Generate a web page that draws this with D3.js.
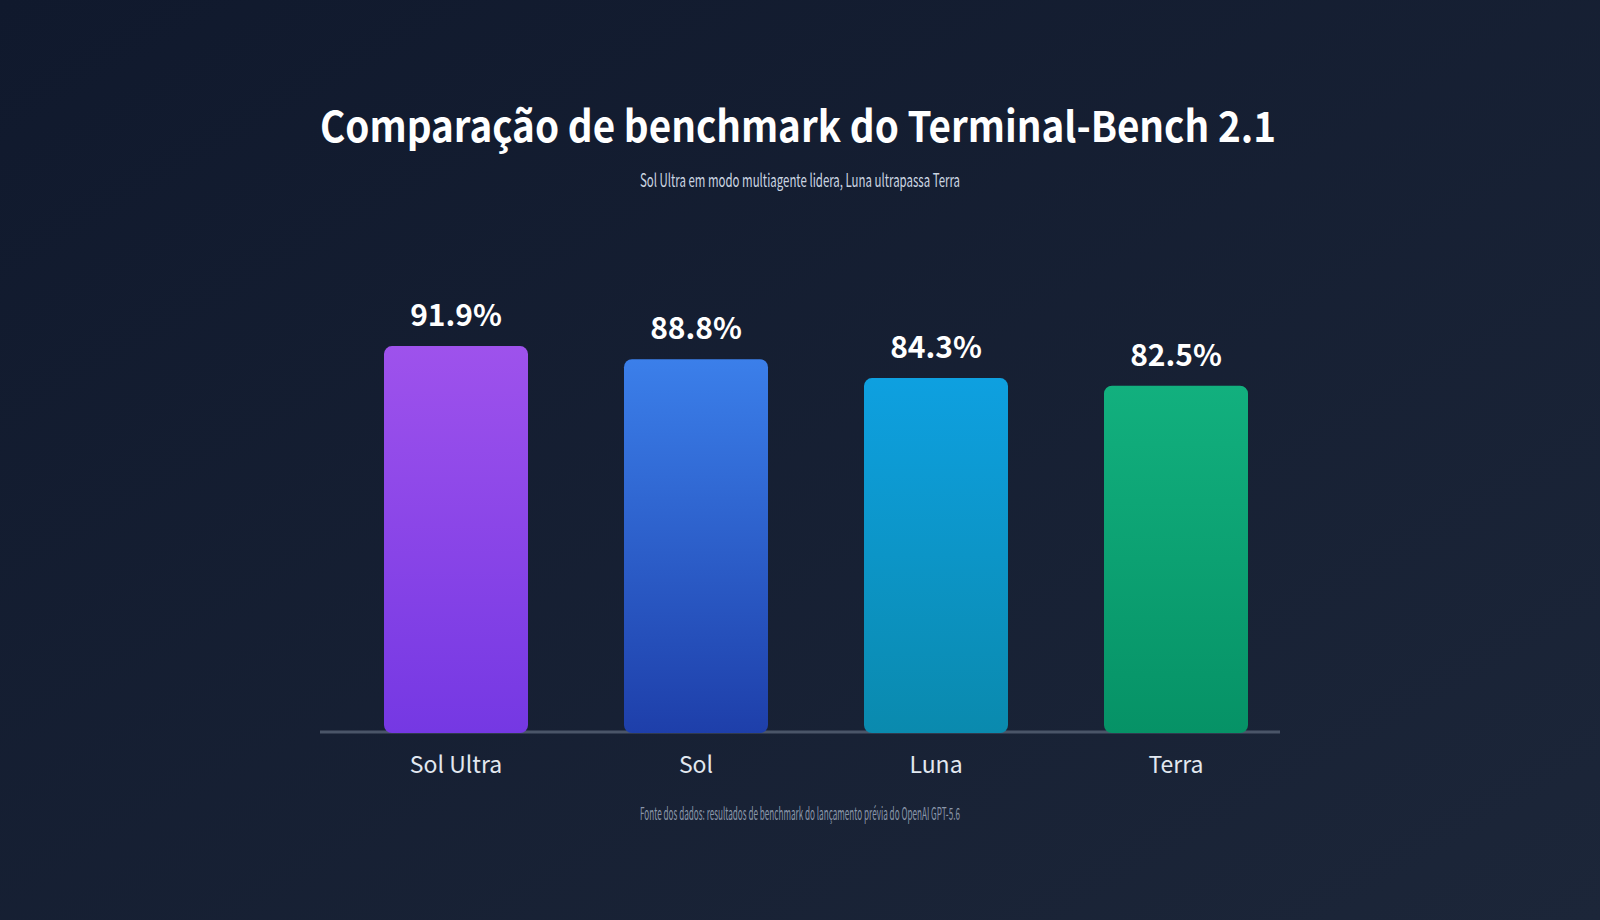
<!DOCTYPE html>
<html>
<head>
<meta charset="utf-8">
<script src="https://cdn.jsdelivr.net/npm/d3@7"></script>
<style>
  html, body { margin: 0; padding: 0; background: #111a2e; }
  svg { display: block; }
</style>
</head>
<body>
<svg id="chart"></svg>
<script>
const models = ["Sol Ultra", "Sol", "Luna", "Terra"];
const scores = [91.9, 88.8, 84.3, 82.5];
const barTop = ["#9e52ec", "#3b7fea", "#0ea0e0", "#12b07e"];
const barBottom = ["#7538e3", "#1e3faa", "#0a8aae", "#069266"];

const title = "Comparação de benchmark do Terminal-Bench 2.1";
const subtitle = "Sol Ultra em modo multiagente lidera, Luna ultrapassa Terra";
const source = "Fonte dos dados: resultados de benchmark do lançamento prévia do OpenAI GPT-5.6";

const width = 1600, height = 920;
const font = "'Noto Sans CJK JP', 'Noto Sans', sans-serif";

const svg = d3.select("#chart")
    .attr("width", width)
    .attr("height", height)
    .attr("viewBox", [0, 0, width, height]);

const defs = svg.append("defs");

const bg = defs.append("linearGradient")
    .attr("id", "bg")
    .attr("x1", "0%").attr("y1", "0%")
    .attr("x2", "100%").attr("y2", "100%");
bg.append("stop").attr("offset", "0%").attr("stop-color", "#10192d");
bg.append("stop").attr("offset", "100%").attr("stop-color", "#1c2639");

models.forEach((m, i) => {
    const g = defs.append("linearGradient")
        .attr("id", "bar" + i)
        .attr("x1", 0).attr("y1", 0)
        .attr("x2", 0).attr("y2", 1);
    g.append("stop").attr("offset", "0%").attr("stop-color", barTop[i]);
    g.append("stop").attr("offset", "100%").attr("stop-color", barBottom[i]);
});

svg.append("rect")
    .attr("width", width)
    .attr("height", height)
    .attr("fill", "url(#bg)");

const x = d3.scaleBand()
    .domain(models)
    .range([336, 1296])
    .paddingInner(0.4)
    .paddingOuter(0.2);

const y = d3.scaleLinear()
    .domain([0, 100])
    .range([733, 312]);

// baseline
svg.append("line")
    .attr("x1", 320).attr("x2", 1280)
    .attr("y1", 732).attr("y2", 732)
    .attr("stroke", "#4a5568")
    .attr("stroke-width", 3);

svg.append("g")
    .selectAll("rect")
    .data(scores)
    .join("rect")
    .attr("x", (d, i) => x(models[i]))
    .attr("y", d => y(d))
    .attr("width", x.bandwidth())
    .attr("height", d => y(0) - y(d))
    .attr("rx", 8)
    .attr("fill", (d, i) => `url(#bar${i})`);

// value labels
svg.append("g")
    .selectAll("text")
    .data(scores)
    .join("text")
    .attr("x", (d, i) => x(models[i]) + x.bandwidth() / 2)
    .attr("y", d => y(d) - 20)
    .attr("text-anchor", "middle")
    .attr("font-family", font)
    .attr("font-weight", 700)
    .attr("font-size", 30)
    .attr("fill", "#ffffff")
    .text(d => d.toFixed(1) + "%");

// category labels
svg.append("g")
    .selectAll("text")
    .data(models)
    .join("text")
    .attr("x", d => x(d) + x.bandwidth() / 2)
    .attr("y", 773)
    .attr("text-anchor", "middle")
    .attr("font-family", font)
    .attr("font-size", 23)
    .attr("fill", "#e2e8f0")
    .text(d => d);

svg.append("text")
    .attr("x", 798)
    .attr("y", 142)
    .attr("text-anchor", "middle")
    .attr("font-family", font)
    .attr("font-weight", 700)
    .attr("font-size", 42)
    .attr("textLength", 956)
    .attr("lengthAdjust", "spacingAndGlyphs")
    .attr("fill", "#ffffff")
    .text(title);

svg.append("text")
    .attr("x", 800)
    .attr("y", 187)
    .attr("text-anchor", "middle")
    .attr("font-family", font)
    .attr("font-size", 18)
    .attr("textLength", 320)
    .attr("lengthAdjust", "spacingAndGlyphs")
    .attr("fill", "#cbd5e1")
    .text(subtitle);

svg.append("text")
    .attr("x", 800)
    .attr("y", 820)
    .attr("text-anchor", "middle")
    .attr("font-family", font)
    .attr("font-size", 17)
    .attr("textLength", 320)
    .attr("lengthAdjust", "spacingAndGlyphs")
    .attr("fill", "#8a96aa")
    .text(source);
</script>
</body>
</html>
